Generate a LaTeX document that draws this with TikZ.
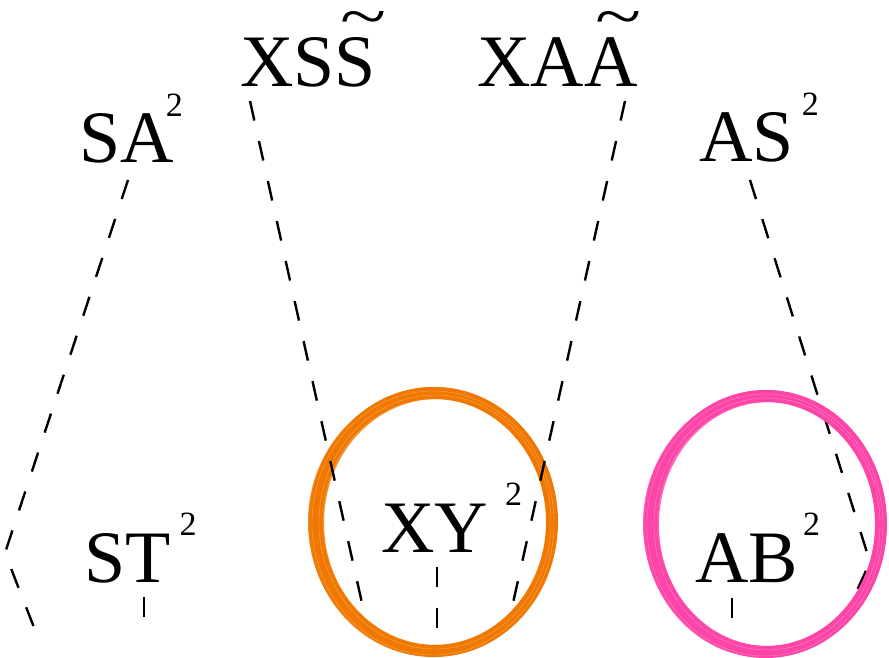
\documentclass[tikz,border=0pt]{standalone}
\usepackage{graphicx}
\usepackage{fontspec}
\setmainfont{Liberation Serif}
\usetikzlibrary{calc}
\definecolor{brushO}{RGB}{240,120,0}
\definecolor{brushP}{RGB}{255,68,168}
\newcommand{\supII}[1]{\hspace{#1pt}\raisebox{47pt}{\fontsize{34}{34}\selectfont 2}}
\newcommand{\wtl}[1]{\ooalign{#1\cr\hidewidth\kern16pt\raisebox{49pt}{\scalebox{1.15}[0.85]{\char"007E}}\hidewidth\cr}}
\begin{document}
\begin{tikzpicture}[x=1pt,y=-1pt,
  lbl/.style={inner sep=0pt, anchor=base west, font=\fontsize{74}{80}\selectfont},
  dashline/.style={draw=black, line width=2.4pt, dash pattern=on 20pt off 21pt},
  brushring/.style={line width=#1, opacity=0.8},
]
\useasboundingbox (0,0) rectangle (889,658);

% brush circles
\coordinate (oc) at (434,522);
\coordinate (pc) at (766,524);
\draw[brushO, line width=12pt] (oc) ellipse [x radius=118pt, y radius=129pt];
\foreach \a/\b/\c/\d/\w in {2/-1/115/126/4, -3/1/121/132/3, 1/2/117/128/5, -4/0/120/130/4, 0/-3/122/131/2, 3/1/114/125/2}{
  \draw[brushO, brushring=\w pt] ($(oc)+(\a,\b)$) ellipse [x radius=\c pt, y radius=\d pt];
}
\foreach \a/\b/\c/\d in {1/0/116/127, -1/1/121/132}{
  \draw[white, line width=0.4pt, opacity=0.35] ($(oc)+(\a,\b)$) ellipse [x radius=\c pt, y radius=\d pt];
}

% labels
\node[lbl] (xss) at (240,87) {XS\wtl{S}};
\node[lbl] (xaa) at (477,87) {XA\wtl{A}};
\node[lbl] (sa) at (79,163) {SA\supII{-8}};
\node[lbl] (as) at (699,162) {AS\supII{8}};
\node[lbl] (st) at (84,582) {ST\supII{9}};
\node[lbl] (xy) at (381,552) {XY\supII{17}};
\node[lbl] (ab) at (695,582) {AB\supII{5}};

% connector ends
\coordinate (saT) at (128,180);
\coordinate (saK) at (5,553);
\coordinate (saE) at (35,630);
\coordinate (xssT) at (250,101);
\coordinate (xssE) at (364,612);
\coordinate (xaaT) at (625,101);
\coordinate (xaaE) at (511,612);
\coordinate (asT) at (750,180);
\coordinate (asK) at (870,562);
\coordinate (asE) at (838,632);
\coordinate (stT) at (144,597);
\coordinate (stE) at (144,618);
\coordinate (xyT) at (437,567);
\coordinate (xyE) at (437,640);
\coordinate (abT) at (732,598);
\coordinate (abE) at (732,618);

\draw[dashline] (saT) -- (saK) -- (saE);
\draw[dashline] (xssT) -- (xssE);
\draw[dashline] (xaaT) -- (xaaE);
\draw[dashline] (asT) -- (asK) -- (asE);
\draw[dashline] (stT) -- (stE);
\draw[dashline] (xyT) -- (xyE);
\draw[dashline] (abT) -- (abE);

\draw[brushP, line width=12pt] (pc) ellipse [x radius=115pt, y radius=128pt];
\foreach \a/\b/\c/\d/\w in {2/-1/112/125/4, -3/1/118/131/3, 1/2/114/127/5, -4/0/117/129/4, 0/-3/119/130/2, 3/1/111/124/2}{
  \draw[brushP, brushring=\w pt] ($(pc)+(\a,\b)$) ellipse [x radius=\c pt, y radius=\d pt];
}
\foreach \a/\b/\c/\d in {1/0/113/126, -1/1/118/131}{
  \draw[white, line width=0.4pt, opacity=0.35] ($(pc)+(\a,\b)$) ellipse [x radius=\c pt, y radius=\d pt];
}
\end{tikzpicture}
\end{document}
